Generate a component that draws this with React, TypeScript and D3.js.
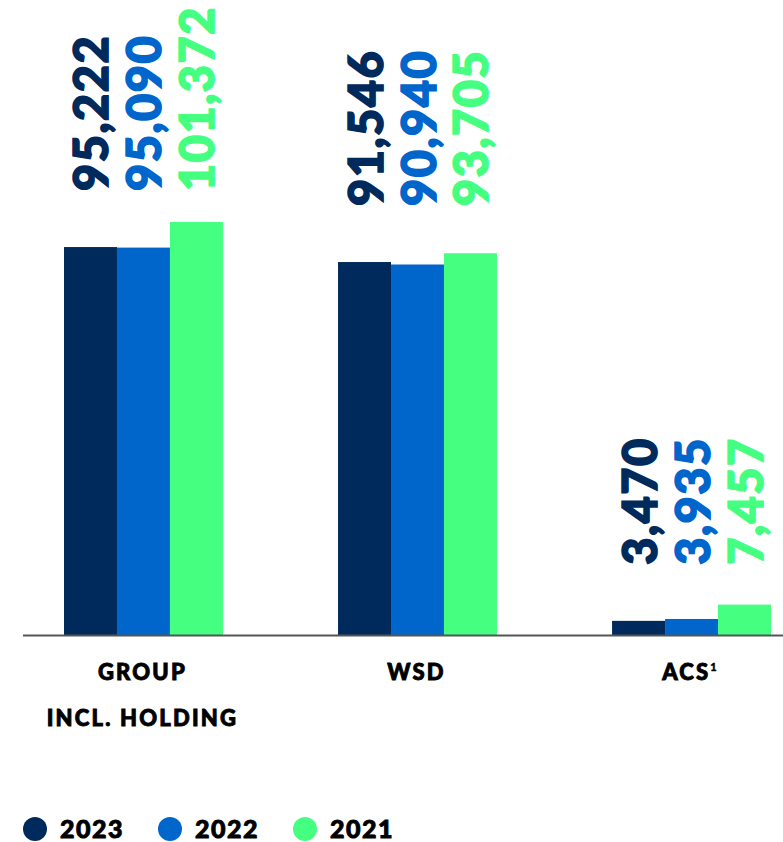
import React from "react";
import * as d3 from "d3";

const categories = ["GROUP|INCL. HOLDING", "WSD", "ACS"];
const years = ["2023", "2022", "2021"];
const values2023 = [95222, 91546, 3470];
const values2022 = [95090, 90940, 3935];
const values2021 = [101372, 93705, 7457];
const colors = ["#002a5c", "#0066cc", "#45ff80"];

const W = 783;
const H = 842;

export default function App() {
  const series = [values2023, values2022, values2021];
  const x0 = d3.scaleBand<string>().domain(categories).range([64, 771]).paddingInner(0.42).paddingOuter(0);
  const x1 = d3.scaleBand<string>().domain(years).range([0, x0.bandwidth()]).padding(0);
  const y = d3.scaleLinear().domain([0, 101372]).range([635, 222]);
  const fmt = d3.format(",");
  const numFont = "Lato, 'DejaVu Sans', sans-serif";

  return (
    <div style={{ position: "absolute", left: 0, top: 0, width: W, height: H }}>
      <svg width={W} height={H} style={{ display: "block" }}>
        {categories.map((cat, ci) => {
          const gx = x0(cat)!;
          const labelY = y(series[0][ci]) - 56;
          const lines = cat.split("|");
          return (
            <g key={cat}>
              {years.map((yr, si) => {
                const v = series[si][ci];
                const bx = gx + x1(yr)!;
                const cx = bx + x1.bandwidth() / 2;
                return (
                  <g key={yr}>
                    <rect x={bx} y={y(v)} width={x1.bandwidth()} height={y(0) - y(v)} fill={colors[si]} />
                    <text
                      transform={`translate(${cx + 18},${labelY}) rotate(-90)`}
                      fontFamily={numFont}
                      fontWeight={900}
                      fontSize={47}
                      letterSpacing={1.5}
                      fill={colors[si]}
                      stroke={colors[si]}
                      strokeWidth={1.6}
                      textAnchor="start"
                    >
                      {fmt(v)}
                    </text>
                  </g>
                );
              })}
              {lines.map((ln, li) => (
                <text
                  key={li}
                  x={gx + x0.bandwidth() / 2 - 1}
                  y={680 + li * 46}
                  textAnchor="middle"
                  fontFamily={numFont}
                  fontWeight={900}
                  fontSize={22}
                  letterSpacing={2.2}
                  fill="#000"
                  stroke="#000"
                  strokeWidth={0.9}
                >
                  {ln}
                  {cat === "ACS" ? (
                    <tspan fontSize={11} dy={-9} strokeWidth={0.4}>1</tspan>
                  ) : null}
                </text>
              ))}
            </g>
          );
        })}
        <line x1={23} x2={783} y1={y(0) + 0.5} y2={y(0) + 0.5} stroke="#555" strokeWidth={2} />
        {years.map((yr, i) => (
          <g key={yr} transform={`translate(${35 + i * 135},829)`}>
            <circle r={12} fill={colors[i]} />
            <text x={25} y={9} fontFamily={numFont} fontWeight={900} fontSize={25} letterSpacing={1.5} fill="#000" stroke="#000" strokeWidth={0.9}>
              {yr}
            </text>
          </g>
        ))}
      </svg>
    </div>
  );
}
